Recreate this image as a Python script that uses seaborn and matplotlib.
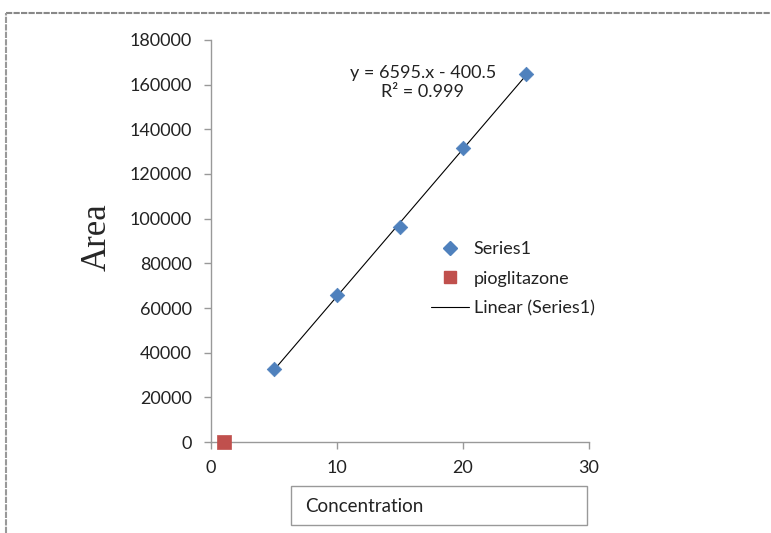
import numpy as np
import pandas as pd
import matplotlib
matplotlib.use("Agg")
import matplotlib.pyplot as plt
import seaborn as sns
from matplotlib.patches import Rectangle
from matplotlib.lines import Line2D

# ---- data ----
conc = [5, 10, 15, 20, 25]
area = [32700, 65800, 96300, 131600, 164700]
pio_x = [1]
pio_y = [0]
eq_text = "y = 6595.x - 400.5"
r2_text = "R² = 0.999"
x_ticks = [0, 10, 20, 30]
y_ticks = [0, 20000, 40000, 60000, 80000, 100000, 120000, 140000, 160000, 180000]

sns.set_style("white")
plt.rcParams['font.family'] = ['Lato', 'DejaVu Sans']

fig = plt.figure(figsize=(7.71, 5.33), dpi=100)
ax = fig.add_axes([0.2737, 0.1707, 0.764 - 0.2737, 0.925 - 0.1707])

df = pd.DataFrame({"x": conc, "y": area})
sns.regplot(data=df, x="x", y="y", ax=ax, ci=None, scatter=False,
            line_kws=dict(color="black", lw=0.8))
sns.scatterplot(data=df, x="x", y="y", ax=ax, marker="D", s=55,
                color="#4F81BD", edgecolor="#4F81BD", linewidth=0.5, zorder=5)
sns.scatterplot(x=pio_x, y=pio_y, ax=ax, marker="s", s=110,
                color="#C0504D", edgecolor="#C0504D", linewidth=0.5, zorder=5, clip_on=False)

ax.set_xlim(0, 30)
ax.set_ylim(0, 180000)
ax.set_xticks(x_ticks)
ax.set_yticks(y_ticks)
ax.set_xticklabels([str(v) for v in x_ticks])
ax.set_yticklabels([str(v) for v in y_ticks])
ax.set_xlabel("")
ax.set_ylabel("")
for s in ["top", "right"]:
    ax.spines[s].set_visible(False)
for s in ["left", "bottom"]:
    ax.spines[s].set_color("#999999")
    ax.spines[s].set_linewidth(1.0)
ax.tick_params(axis="both", direction="out", length=5, width=1, color="#999999",
               labelsize=13, labelcolor="#222222", bottom=True, left=True)
ax.tick_params(axis="y", pad=9)
ax.tick_params(axis="x", pad=8)

ax.text(0.56, 0.895, eq_text + "\n" + r2_text, transform=ax.transAxes,
        ha="center", va="center", fontsize=13, linespacing=1.25, color="#222222")

handles = [
    Line2D([], [], marker="D", color="#4F81BD", linestyle="none", markersize=7),
    Line2D([], [], marker="s", color="#C0504D", linestyle="none", markersize=9),
    Line2D([], [], color="black", lw=0.8),
]
leg = ax.legend(handles, ["Series1", "pioglitazone", "Linear (Series1)"],
                loc="upper left", bbox_to_anchor=(0.54, 0.54), frameon=False,
                fontsize=13, handlelength=2.1, labelspacing=0.75, handletextpad=0.25)
for t in leg.get_texts():
    t.set_color("#222222")

fig.text(0.126, 0.555, "Area", rotation=90, ha="center", va="center",
         fontsize=25, family=["Liberation Serif"])

# Concentration box
fig.patches.append(Rectangle((291 / 771, 1 - 525 / 533), (587 - 291) / 771, (525 - 486) / 533,
                             transform=fig.transFigure, fill=False, edgecolor="#999999", lw=1))
fig.text(305 / 771, 1 - 506 / 533, "Concentration", ha="left", va="center", fontsize=13.5, color="#222222")

# outer border (top and left only)
fig.add_artist(Line2D([6 / 771, 1.0], [1 - 13 / 533, 1 - 13 / 533], transform=fig.transFigure,
                      color="#888888", lw=1.5, linestyle=(0, (3, 0.6))))
fig.add_artist(Line2D([6 / 771, 6 / 771], [0, 1 - 13 / 533], transform=fig.transFigure,
                      color="#999999", lw=1.5, linestyle=(0, (3, 0.6))))

fig.savefig("out.png", dpi=100)
